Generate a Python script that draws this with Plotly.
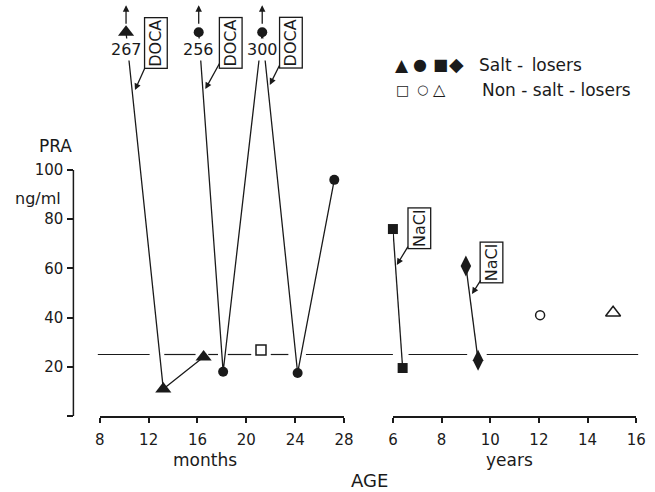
import plotly.graph_objects as go

# ---------------- data ----------------
# salt-losers, measured in months (filled triangle patient)
tri_months = [10.15, 13.2, 16.5]
tri_pra = [267, 11, 24]
# salt-loser, filled circle patient (months)
circ_months = [16.1, 18.1, 21.3, 24.2, 27.2]
circ_pra = [256, 18, 300, 17.5, 96]
# salt-loser, filled square patient (years)
sq_years = [6.0, 6.4]
sq_pra = [76, 19.5]
# salt-loser, filled diamond patient (years)
dia_years = [9.0, 9.5]
dia_pra = [61, 22.7]
# non-salt-losers
open_sq_months = [21.2]
open_sq_pra = [26.8]
open_circ_years = [12.05]
open_circ_pra = [41]
open_tri_years = [15.05]
open_tri_pra = [42]

month_ticks = [8, 12, 16, 20, 24, 28]
year_ticks = [6, 8, 10, 12, 14, 16]
pra_ticks = [0, 20, 40, 60, 80, 100]
pra_ticktext = ["", "20", "40", "60", "80", "100"]
NORMAL_PRA = 25

# ---------------- layout constants ----------------
W, H = 655, 492
FONT = "DejaVu Sans, sans-serif"
INK = "#1a1a1a"
OFFSCALE_MARK = 156     # where off-scale values are drawn
OFFSCALE_LABEL = 149
ARROW_TOP = 167
Y_TOP = 416 / 2.46      # y range top


def px(x):
    return x / W


def py(y):
    return 1 - y / H


def disp(vals):
    return [v if v <= 100 else OFFSCALE_MARK for v in vals]


fig = go.Figure()
line = dict(color=INK, width=1.3)

fig.add_trace(go.Scatter(x=tri_months, y=disp(tri_pra), xaxis="x", yaxis="y",
                         mode="lines+markers", line=line, cliponaxis=False,
                         marker=dict(symbol="triangle-up", size=14, color=INK)))
fig.add_trace(go.Scatter(x=circ_months, y=disp(circ_pra), xaxis="x", yaxis="y",
                         mode="lines+markers", line=line, cliponaxis=False,
                         marker=dict(symbol="circle", size=10, color=INK)))
fig.add_trace(go.Scatter(x=open_sq_months, y=open_sq_pra, xaxis="x", yaxis="y",
                         mode="markers", cliponaxis=False,
                         marker=dict(symbol="square-open", size=10, color=INK,
                                     line=dict(width=1.5, color=INK))))
fig.add_trace(go.Scatter(x=sq_years, y=sq_pra, xaxis="x2", yaxis="y",
                         mode="lines+markers", line=line, cliponaxis=False,
                         marker=dict(symbol="square", size=10, color=INK)))
fig.add_trace(go.Scatter(x=dia_years, y=dia_pra, xaxis="x2", yaxis="y",
                         mode="lines+markers", line=line, cliponaxis=False,
                         marker=dict(symbol="diamond-tall", size=15, color=INK)))
fig.add_trace(go.Scatter(x=open_circ_years, y=open_circ_pra, xaxis="x2", yaxis="y",
                         mode="markers", cliponaxis=False,
                         marker=dict(symbol="circle-open", size=9, color=INK,
                                     line=dict(width=1.5, color=INK))))
fig.add_trace(go.Scatter(x=open_tri_years, y=open_tri_pra, xaxis="x2", yaxis="y",
                         mode="markers", cliponaxis=False,
                         marker=dict(symbol="triangle-up-open", size=13, color=INK,
                                     line=dict(width=1.5, color=INK))))

shapes = []
# y axis line from 0 to 100
shapes.append(dict(type="line", xref="paper", yref="y", x0=px(70), x1=px(70),
                   y0=0, y1=100, line=dict(color=INK, width=1.5)))
# broken reference line at the upper normal PRA level
for a, b in [(95, 148), (163, 195), (208, 218), (228, 252), (272, 290),
             (308, 397), (413, 473), (493, 648)]:
    shapes.append(dict(type="line", xref="paper", yref="y", x0=px(a), x1=px(b),
                       y0=NORMAL_PRA, y1=NORMAL_PRA,
                       line=dict(color=INK, width=1.2)))

ann = []
tf = dict(family=FONT, size=16, color=INK)
lf = dict(family=FONT, size=17, color=INK)

# off-scale values: labels and up arrows
for xv, val in [(tri_months[0], tri_pra[0]), (circ_months[0], circ_pra[0]),
                (circ_months[2], circ_pra[2])]:
    ann.append(dict(x=xv, y=OFFSCALE_LABEL, xref="x", yref="y", text=str(val),
                    showarrow=False, font=tf, bgcolor="white", borderpad=1))
    ann.append(dict(x=xv, y=ARROW_TOP, xref="x", yref="y", text="", showarrow=True,
                    ax=0, ay=20, arrowhead=2, arrowsize=1, arrowwidth=1.3,
                    arrowcolor=INK))

# treatment boxes with arrows
box = dict(showarrow=True, textangle=-90, bordercolor=INK, borderwidth=1.3,
           borderpad=1, bgcolor="white", arrowhead=2, arrowsize=1,
           arrowwidth=1.3, arrowcolor=INK, font=dict(family=FONT, size=16, color=INK))
ann.append(dict(x=10.88, y=132.5, xref="x", yref="y", text="DOCA", ax=21, ay=-47, **box))
ann.append(dict(x=16.64, y=132.9, xref="x", yref="y", text="DOCA", ax=25.5, ay=-46, **box))
ann.append(dict(x=21.92, y=134.6, xref="x", yref="y", text="DOCA", ax=21, ay=-42, **box))
ann.append(dict(x=6.16, y=61.4, xref="x2", yref="y", text="NaCl", ax=22.5, ay=-37, **box))
ann.append(dict(x=9.25, y=49.6, xref="x2", yref="y", text="NaCl", ax=20, ay=-31.5, **box))

# legend
for sym, x, y, s in [("▲", 406, 65, 17), ("●", 425, 65, 16), ("■", 446, 65, 16),
                     ("◆", 462, 64, 19), ("□", 407, 90, 14), ("○", 427, 90, 13),
                     ("△", 445, 90, 16)]:
    ann.append(dict(x=px(x), y=py(y), xref="paper", yref="paper", text=sym,
                    showarrow=False, font=dict(family=FONT, size=s, color=INK),
                    xanchor="center", yanchor="middle"))
ann.append(dict(x=px(483), y=py(65), xref="paper", yref="paper",
                text="Salt -\u2002losers",
                showarrow=False, font=lf, xanchor="left", yanchor="middle"))
ann.append(dict(x=px(486), y=py(90), xref="paper", yref="paper",
                text="Non - salt - losers", showarrow=False, font=lf,
                xanchor="left", yanchor="middle"))

# axis titles
for txt, x, y, s in [("PRA", 52, 146, 17), ("ng/ml", 34, 198, 16),
                     ("months", 205, 460, 17), ("years", 516, 460, 17),
                     ("AGE", 373, 480, 18)]:
    ann.append(dict(x=px(x), y=py(y), xref="paper", yref="paper", text=txt,
                    showarrow=False, font=dict(family=FONT, size=s, color=INK),
                    xanchor="center", yanchor="middle"))

axis_common = dict(showline=True, linecolor=INK, linewidth=1.5, ticks="outside",
                   ticklen=5, tickwidth=1.5, tickcolor=INK, showgrid=False,
                   zeroline=False, tickfont=dict(family=FONT, size=15, color=INK),
                   ticklabelstandoff=4, anchor="y", fixedrange=True)

fig.update_layout(
    width=W, height=H, margin=dict(l=0, r=0, t=0, b=0),
    paper_bgcolor="white", plot_bgcolor="white", showlegend=False,
    xaxis=dict(domain=[px(97), px(347)], range=[8, 28], tickvals=month_ticks,
               **axis_common),
    xaxis2=dict(domain=[px(397), px(646)], range=[6, 16], tickvals=year_ticks,
                **axis_common),
    yaxis=dict(domain=[py(416), 1], range=[0, Y_TOP], anchor="free",
               position=px(70), showline=False, showgrid=False, zeroline=False,
               ticks="outside", ticklen=6, tickwidth=1.5, tickcolor=INK,
               tickvals=pra_ticks, ticktext=pra_ticktext,
               tickfont=dict(family=FONT, size=15, color=INK),
               ticklabelstandoff=1, fixedrange=True),
    shapes=shapes, annotations=ann,
)

fig.write_html("out.html", config={"displayModeBar": False},
               post_script="document.body.style.margin='0';"
                           "document.body.style.overflow='hidden';")
